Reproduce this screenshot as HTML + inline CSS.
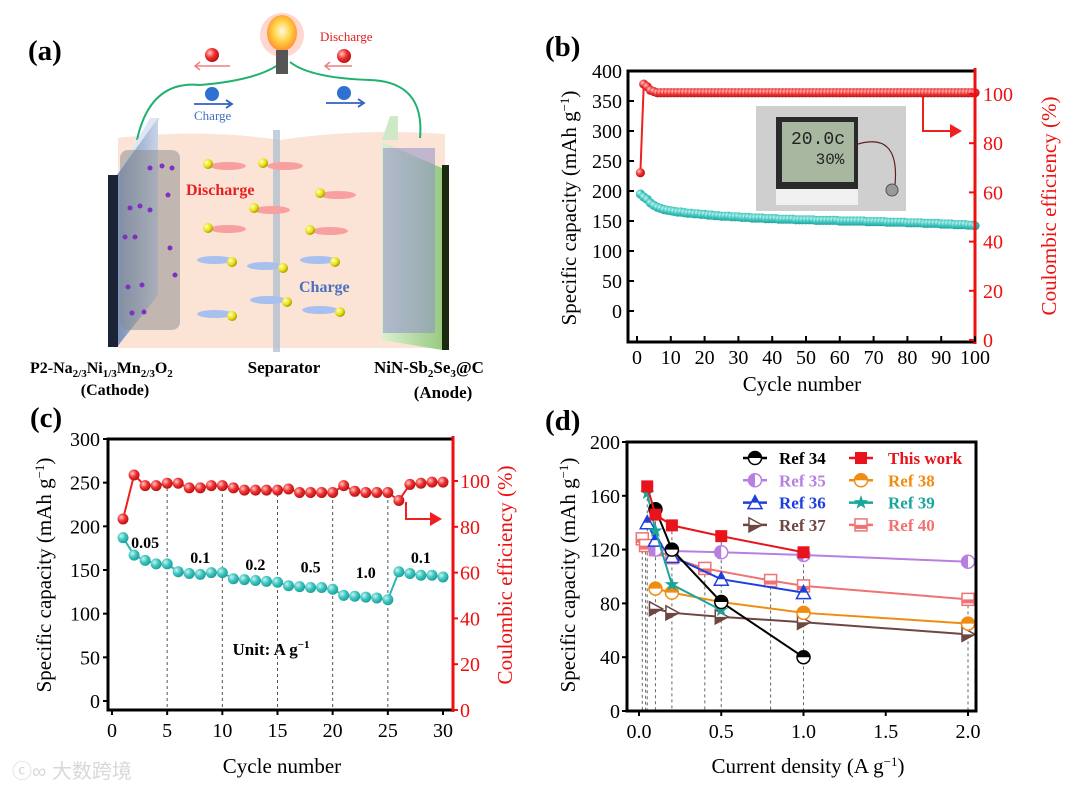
<!DOCTYPE html>
<html><head><meta charset="utf-8"><style>
html,body{margin:0;padding:0;background:#fff}
svg{display:block;font-family:"Liberation Serif","Noto Serif CJK SC",serif}
</style></head><body>
<svg id="fig" width="1080" height="789" viewBox="0 0 1080 789" xmlns="http://www.w3.org/2000/svg">
<defs>
<radialGradient id="gT" cx="0.35" cy="0.35" r="0.7"><stop offset="0" stop-color="#c8f4f0"/><stop offset="0.5" stop-color="#3fc6c0"/><stop offset="1" stop-color="#1a9a96"/></radialGradient>
<radialGradient id="gR" cx="0.35" cy="0.35" r="0.7"><stop offset="0" stop-color="#ffc8c8"/><stop offset="0.5" stop-color="#f03030"/><stop offset="1" stop-color="#b01010"/></radialGradient>
<radialGradient id="gY" cx="0.35" cy="0.35" r="0.7"><stop offset="0" stop-color="#ffffc0"/><stop offset="0.6" stop-color="#e8e010"/><stop offset="1" stop-color="#a09000"/></radialGradient>
<radialGradient id="gBulb" cx="0.5" cy="0.45" r="0.6"><stop offset="0" stop-color="#fffbe0"/><stop offset="0.5" stop-color="#ffd040"/><stop offset="1" stop-color="#ff8030"/></radialGradient>
<linearGradient id="gCat" x1="0" x2="1"><stop offset="0" stop-color="#7a90b8"/><stop offset="1" stop-color="#c8d4e8"/></linearGradient>
<linearGradient id="gAn" x1="0" x2="1"><stop offset="0" stop-color="#d8f0d0"/><stop offset="1" stop-color="#8cc878"/></linearGradient>
</defs>

<g>
<text x="28" y="60" font-size="29" font-weight="bold">(a)</text>
<path d="M118 138 Q200 128 280 140 Q360 128 445 134 L445 348 L118 348 Z" fill="#fbe4d6"/>
<path d="M137 140 Q150 80 200 85 Q260 80 282 62" fill="none" stroke="#20b070" stroke-width="2"/>
<path d="M420 138 Q425 82 370 80 Q310 78 290 62" fill="none" stroke="#20b070" stroke-width="2"/>
<circle cx="282" cy="35" r="22" fill="#ffb0a0" opacity="0.5"/>
<ellipse cx="282" cy="33" rx="15" ry="18" fill="url(#gBulb)"/>
<rect x="276" y="50" width="12" height="24" fill="#555"/>
<text x="320" y="41" font-size="13" fill="#e02020">Discharge</text>
<circle cx="212" cy="55" r="7" fill="url(#gR)"/>
<circle cx="344" cy="56" r="7" fill="url(#gR)"/>
<path d="M230 66 H196 M200 62 L195 66 L200 70" stroke="#f08080" stroke-width="1.5" fill="none"/>
<path d="M352 66 H326 M330 62 L325 66 L330 70" stroke="#f08080" stroke-width="1.5" fill="none"/>
<circle cx="212" cy="94" r="7" fill="#3070d0"/>
<circle cx="344" cy="93" r="7" fill="#3070d0"/>
<path d="M194 104 H230 M226 100 L232 104 L226 108" stroke="#3060c0" stroke-width="1.8" fill="none"/>
<path d="M326 103 H362 M358 99 L364 103 L358 107" stroke="#3060c0" stroke-width="1.8" fill="none"/>
<text x="194" y="120" font-size="13" fill="#4070c0">Charge</text>
<polygon points="117,175 150,118 160,118 127,175" fill="#dce6f4"/>
<polygon points="117,175 158,118 158,295 117,347" fill="url(#gCat)"/>
<rect x="108" y="175" width="10" height="172" fill="#1a2436"/>
<rect x="120" y="150" width="60" height="180" rx="8" fill="#8a8a8a" opacity="0.5"/>
<g fill="#8030c0">
<circle cx="150" cy="168" r="2.5"/><circle cx="162" cy="166" r="2.5"/><circle cx="172" cy="168" r="2.5"/><circle cx="168" cy="195" r="2.5"/><circle cx="130" cy="208" r="2.5"/><circle cx="140" cy="206" r="2.5"/><circle cx="150" cy="210" r="2.5"/><circle cx="125" cy="237" r="2.5"/><circle cx="135" cy="237" r="2.5"/><circle cx="170" cy="248" r="2.5"/><circle cx="175" cy="275" r="2.5"/><circle cx="128" cy="287" r="2.5"/><circle cx="142" cy="285" r="2.5"/><circle cx="132" cy="313" r="2.5"/><circle cx="144" cy="312" r="2.5"/>
</g>
<polygon points="382,140 390,116 398,116 398,140" fill="#cfe8c8"/>
<polygon points="382,142 442,168 442,350 382,340" fill="url(#gAn)" opacity="0.9"/>
<rect x="442" y="165" width="7" height="185" fill="#1a2a10"/>
<rect x="383" y="148" width="52" height="185" fill="#9090c8" opacity="0.55"/>
<rect x="273" y="130" width="7" height="222" fill="#a8bcd0" opacity="0.7"/>
<text x="186" y="195" font-size="16" font-weight="bold" fill="#e82020">Discharge</text>
<text x="299" y="292" font-size="16" font-weight="bold" fill="#4a70c0">Charge</text>
<g>
<ellipse cx="228" cy="166" rx="18" ry="4" fill="#f8a0a0"/><circle cx="208" cy="164" r="5" fill="url(#gY)"/>
<ellipse cx="285" cy="166" rx="18" ry="4" fill="#f8a0a0"/><circle cx="263" cy="163" r="5" fill="url(#gY)"/>
<ellipse cx="338" cy="195" rx="18" ry="4" fill="#f8a0a0"/><circle cx="320" cy="193" r="5" fill="url(#gY)"/>
<ellipse cx="272" cy="210" rx="18" ry="4" fill="#f8a0a0"/><circle cx="254" cy="208" r="5" fill="url(#gY)"/>
<ellipse cx="228" cy="229" rx="18" ry="4" fill="#f8a0a0"/><circle cx="208" cy="228" r="5" fill="url(#gY)"/>
<ellipse cx="330" cy="231" rx="18" ry="4" fill="#f8a0a0"/><circle cx="310" cy="230" r="5" fill="url(#gY)"/>
<ellipse cx="215" cy="260" rx="18" ry="4" fill="#a8c0f0"/><circle cx="232" cy="262" r="5" fill="url(#gY)"/>
<ellipse cx="265" cy="266" rx="18" ry="4" fill="#a8c0f0"/><circle cx="283" cy="268" r="5" fill="url(#gY)"/>
<ellipse cx="318" cy="260" rx="18" ry="4" fill="#a8c0f0"/><circle cx="335" cy="262" r="5" fill="url(#gY)"/>
<ellipse cx="268" cy="300" rx="18" ry="4" fill="#a8c0f0"/><circle cx="287" cy="302" r="5" fill="url(#gY)"/>
<ellipse cx="320" cy="310" rx="18" ry="4" fill="#a8c0f0"/><circle cx="340" cy="312" r="5" fill="url(#gY)"/>
<ellipse cx="215" cy="314" rx="18" ry="4" fill="#a8c0f0"/><circle cx="232" cy="316" r="5" fill="url(#gY)"/>
</g>
<text x="30" y="373" font-size="16" font-weight="bold">P2-Na<tspan font-size="11" dy="4">2/3</tspan><tspan dy="-4">Ni</tspan><tspan font-size="11" dy="4">1/3</tspan><tspan dy="-4">Mn</tspan><tspan font-size="11" dy="4">2/3</tspan><tspan dy="-4">O</tspan><tspan font-size="11" dy="4">2</tspan></text>
<text x="115" y="395" font-size="16" font-weight="bold" text-anchor="middle">(Cathode)</text>
<text x="284" y="373" font-size="17" font-weight="bold" text-anchor="middle">Separator</text>
<text x="374" y="373" font-size="17" font-weight="bold">NiN-Sb<tspan font-size="11" dy="4">2</tspan><tspan dy="-4">Se</tspan><tspan font-size="11" dy="4">3</tspan><tspan dy="-4">@C</tspan></text>
<text x="443" y="398" font-size="17" font-weight="bold" text-anchor="middle">(Anode)</text>
</g>

<text x="545" y="56" font-size="29" font-weight="bold">(b)</text>
<text x="30" y="427" font-size="29" font-weight="bold">(c)</text>
<text x="545" y="430" font-size="29" font-weight="bold">(d)</text>
<text x="12" y="778" font-size="20" fill="#d8d8d8" font-family="Liberation Sans, Noto Sans CJK SC, sans-serif">ⓒ∞ 大数跨境</text>

<g id="pb"></g>
<g id="pc"></g>
<g id="pd"></g>
</svg>
<script>
// ---- Panel b data ----
const bCapacity = [195,190,186,180,176,173,171,169,168,167,
166,165,165,164,163,163,162,162,161,161,
160,160,159,159,158,158,158,157,157,157,
156,156,156,155,155,155,155,154,154,154,
154,153,153,153,153,153,152,152,152,152,
152,152,151,151,151,151,151,151,151,150,
150,150,150,150,150,150,150,149,149,149,
149,149,149,148,148,148,148,148,148,147,
147,147,147,147,146,146,146,146,146,145,
145,145,145,144,144,144,144,143,143,142];
const bCE = [68,104,103,101.5,101,100.5,100.5,100.5,100.5,100.5,
100.5,100.5,100.5,100.5,100.5,100.5,100.5,100.5,100.5,100.5,
100.5,100.5,100.5,100.5,100.5,100.5,100.5,100.5,100.5,100.5,
100.5,100.5,100.5,100.5,100.5,100.5,100.5,100.5,100.5,100.5,
100.5,100.5,100.5,100.5,100.5,100.5,100.5,100.5,100.5,100.5,
100.5,100.5,100.5,100.5,100.5,100.5,100.5,100.5,100.5,100.5,
100.5,100.5,100.5,100.5,100.5,100.5,100.5,100.5,100.5,100.5,
100.5,100.5,100.5,100.5,100.5,100.5,100.5,100.5,100.5,100.5,
100.5,100.5,100.5,100.5,100.5,100.5,100.5,100.5,100.5,100.5,
100.5,100.5,100.5,100.5,100.5,100.5,100.5,100.5,100.5,100.5];
const bXTicks = [0,10,20,30,40,50,60,70,80,90,100];
const bYTicks = [0,50,100,150,200,250,300,350,400];
const bY2Ticks = [0,20,40,60,80,100];
// ---- Panel c data ----
const cCapacity = [187,167,161,157,157,148,146,145,147,147,140,139,138,137,136,132,131,130,130,128,121,120,119,118,116,148,146,144,144,142];
const cCE = [83.4,102.6,98,98,99,99,97,97,98,98,97,96,96,96,96,96.5,95,95,95,95,98,95.5,95,95,95,91.5,98.5,99,99.5,99.5];
const cXTicks = [0,5,10,15,20,25,30];
const cYTicks = [0,50,100,150,200,250,300];
const cY2Ticks = [0,20,40,60,80,100];
const cRateLabels = ["0.05","0.1","0.2","0.5","1.0","0.1"];
const cRateCycles = [3,8,13,18,23,28];
const cRateValues = [175,158,150,147,141,158];
// ---- Panel d data ----
const dRef34X = [0.1,0.2,0.5,1.0], dRef34Y = [150,120,81,40];
const dWorkX = [0.05,0.1,0.2,0.5,1.0], dWorkY = [167,146,138,130,118];
const dRef35X = [0.1,0.2,0.5,1.0,2.0], dRef35Y = [120,119,118,116,111];
const dRef38X = [0.1,0.2,0.5,1.0,2.0], dRef38Y = [91,88,81,73,65];
const dRef36X = [0.05,0.1,0.2,0.5,1.0], dRef36Y = [140,127,115,98,88];
const dRef39X = [0.05,0.1,0.2,0.5], dRef39Y = [162,134,94,75];
const dRef37X = [0.1,0.2,0.5,1.0,2.0], dRef37Y = [76,73,70,66,57];
const dRef40X = [0.02,0.04,0.1,0.2,0.4,0.8,1.0,2.0], dRef40Y = [128,123,120,114,106,97,93,83];
const dDropX = [0.02,0.04,0.05,0.1,0.2,0.4,0.5,0.8,1.0,2.0];
const dDropY = [128,123,167,150,138,106,130,97,118,83];
const dXTicks = [0.0,0.5,1.0,1.5,2.0];
const dYTicks = [0,40,80,120,160,200];

const NS = "http://www.w3.org/2000/svg";
function mk(tag, attrs, parent, txt){const e=document.createElementNS(NS,tag);for(const k in attrs)e.setAttribute(k,attrs[k]);if(txt!==undefined)e.textContent=txt;parent.appendChild(e);return e;}
function lin(d0,d1,r0,r1){return v=>r0+(v-d0)*(r1-r0)/(d1-d0);}

// ===== Panel b =====
(function(){
const g=document.getElementById('pb');
const L=628,R=975,T=71,B=342;
const x=lin(0,100,637,975), y=lin(0,400,311,71), y2=lin(0,100,340,94);
let el=mk('rect',{x:756,y:106,width:150,height:105,fill:'#cfcfcf'},g);


el=mk('rect',{x:776,y:117,width:82,height:72,fill:'#2a2a2a'},g);


el=mk('rect',{x:782,y:122,width:72,height:60,fill:'#a8b8a0'},g);


el=mk('text',{x:818,y:144,'font-size':18,'text-anchor':'middle','font-family':'Liberation Mono, monospace',fill:'#222'},g,'20.0c');


el=mk('text',{x:830,y:164,'font-size':16,'text-anchor':'middle','font-family':'Liberation Mono, monospace',fill:'#222'},g,'30%');


el=mk('rect',{x:776,y:189,width:82,height:16,fill:'#f0f0f0'},g);


el=mk('path',{d:'M855 145 Q900 130 895 185',fill:'none',stroke:'#602020','stroke-width':1.2},g);


el=mk('circle',{cx:892,cy:190,r:6,fill:'#999',stroke:'#555'},g);


el=mk('polyline',{points:bCapacity.map((v,i)=>x(i+1)+','+y(v)).join(' '),fill:'none',stroke:'#2ab8b4','stroke-width':2},g);


el=mk('polyline',{points:bCE.map((v,i)=>x(i+1)+','+y2(v)).join(' '),fill:'none',stroke:'#ee2020','stroke-width':2},g);


bCapacity.forEach((v,i)=>{const c=mk('circle',{cx:x(i+1),cy:y(v),r:4.6,fill:'url(#gT)'},g);

});
bCE.forEach((v,i)=>{const c=mk('circle',{cx:x(i+1),cy:y2(v),r:4.6,fill:'url(#gR)'},g);

});
el=mk('path',{d:'M923 97 V131 H952',fill:'none',stroke:'#ee2020','stroke-width':2},g);


el=mk('polygon',{points:'950,124 962,131 950,138',fill:'#ee2020'},g);


el=mk('path',{d:`M${R} ${T} H${L} V${B} H${R}`,fill:'none',stroke:'#000','stroke-width':3},g);


el=mk('line',{x1:R,y1:T-3,x2:R,y2:B+2,stroke:'#ee1010','stroke-width':3},g);


bYTicks.forEach(v=>{mk('line',{x1:L,y1:y(v),x2:L+6,y2:y(v),stroke:'#000','stroke-width':2},g);
const t=mk('text',{x:L-6,y:y(v)+7,'font-size':20,'text-anchor':'end'},g,String(v));

});
bY2Ticks.forEach(v=>{mk('line',{x1:R,y1:y2(v),x2:R-6,y2:y2(v),stroke:'#ee1010','stroke-width':2},g);
const t=mk('text',{x:R+8,y:y2(v)+7,'font-size':20,fill:'#ee1010'},g,String(v));

});
bXTicks.forEach(v=>{mk('line',{x1:x(v),y1:B,x2:x(v),y2:B-6,stroke:'#000','stroke-width':2},g);
const t=mk('text',{x:x(v),y:B+22,'font-size':20,'text-anchor':'middle'},g,String(v));

});
el=mk('text',{x:802,y:391,'font-size':21,'text-anchor':'middle'},g,'Cycle number');


el=mk('text',{transform:'translate(576,208) rotate(-90)','font-size':21,'text-anchor':'middle'},g);
el.innerHTML='Specific capacity (mAh g<tspan dy="-7" font-size="13">−1</tspan><tspan dy="7">)</tspan>';


el=mk('text',{transform:'translate(1056,206) rotate(-90)','font-size':21,'text-anchor':'middle',fill:'#ee1010'},g,'Coulombic efficiency (%)');


})();

// ===== Panel c =====
(function(){
const g=document.getElementById('pc');
const L=108,R=453,T=439,B=710;
const x=lin(0,30,112,443), y=lin(0,300,701,439), y2=lin(0,100,710,481);
[5,10,15,20,25].forEach(v=>{const l=mk('line',{x1:x(v),y1:488,x2:x(v),y2:B,stroke:'#555','stroke-width':1,'stroke-dasharray':'3,3'},g);

});
let el=mk('polyline',{points:cCapacity.map((v,i)=>x(i+1)+','+y(v)).join(' '),fill:'none',stroke:'#2ab8b4','stroke-width':2},g);


el=mk('polyline',{points:cCE.map((v,i)=>x(i+1)+','+y2(v)).join(' '),fill:'none',stroke:'#ee2020','stroke-width':2},g);


cCapacity.forEach((v,i)=>{const c=mk('circle',{cx:x(i+1),cy:y(v),r:5.5,fill:'url(#gT)'},g);

});
cCE.forEach((v,i)=>{const c=mk('circle',{cx:x(i+1),cy:y2(v),r:5.5,fill:'url(#gR)'},g);

});
cRateLabels.forEach((s,i)=>{const t=mk('text',{x:x(cRateCycles[i]),y:y(cRateValues[i]),'font-size':16,'font-weight':'bold','text-anchor':'middle'},g,s);

});
el=mk('text',{x:271,y:655,'font-size':17,'font-weight':'bold','text-anchor':'middle'},g);
el.innerHTML='Unit: A g<tspan dy="-7" font-size="11">−1</tspan>';


el=mk('path',{d:'M406 502 V519 H432',fill:'none',stroke:'#ee2020','stroke-width':2},g);


el=mk('polygon',{points:'430,512 442,519 430,526',fill:'#ee2020'},g);


el=mk('path',{d:`M${R} ${T} H${L} V${B} H${R}`,fill:'none',stroke:'#000','stroke-width':3},g);


el=mk('line',{x1:R,y1:T-3,x2:R,y2:B+2,stroke:'#ee1010','stroke-width':3},g);


cYTicks.forEach(v=>{mk('line',{x1:L,y1:y(v),x2:L-5,y2:y(v),stroke:'#000','stroke-width':2},g);
const t=mk('text',{x:L-8,y:y(v)+7,'font-size':20,'text-anchor':'end'},g,String(v));

});
cY2Ticks.forEach(v=>{mk('line',{x1:R,y1:y2(v),x2:R+5,y2:y2(v),stroke:'#ee1010','stroke-width':2},g);
const t=mk('text',{x:R+7,y:y2(v)+7,'font-size':20,fill:'#ee1010'},g,String(v));

});
cXTicks.forEach(v=>{mk('line',{x1:x(v),y1:B,x2:x(v),y2:B+5,stroke:'#000','stroke-width':2},g);
const t=mk('text',{x:x(v),y:B+27,'font-size':20,'text-anchor':'middle'},g,String(v));

});
el=mk('text',{x:282,y:773,'font-size':21,'text-anchor':'middle'},g,'Cycle number');


el=mk('text',{transform:'translate(51,575) rotate(-90)','font-size':21,'text-anchor':'middle'},g);
el.innerHTML='Specific capacity (mAh g<tspan dy="-7" font-size="13">−1</tspan><tspan dy="7">)</tspan>';


el=mk('text',{transform:'translate(512,575) rotate(-90)','font-size':21,'text-anchor':'middle',fill:'#ee1010'},g,'Coulombic efficiency (%)');


})();

// ===== Panel d =====
(function(){
const g=document.getElementById('pd');
const L=627,R=976,T=442,B=711;
const x=lin(0,2,639,968), y=lin(0,200,711,442);
dDropX.forEach((v,i)=>{const l=mk('line',{x1:x(v),y1:y(dDropY[i]),x2:x(v),y2:B,stroke:'#666','stroke-width':1,'stroke-dasharray':'3,3'},g);

});
const series=[
 {xs:dRef40X,ys:dRef40Y,c:'#f07272',m:'hsq',n:'ref-40'},
 {xs:dRef37X,ys:dRef37Y,c:'#6e4642',m:'tri-r',n:'ref-37'},
 {xs:dRef38X,ys:dRef38Y,c:'#f08c10',m:'hc',n:'ref-38'},
 {xs:dRef35X,ys:dRef35Y,c:'#b67fe0',m:'hcv',n:'ref-35'},
 {xs:dRef36X,ys:dRef36Y,c:'#1e3ee0',m:'tri',n:'ref-36'},
 {xs:dRef39X,ys:dRef39Y,c:'#1aa59a',m:'star',n:'ref-39'},
 {xs:dRef34X,ys:dRef34Y,c:'#000',m:'hc',n:'ref-34'},
 {xs:dWorkX,ys:dWorkY,c:'#e8131b',m:'sq',n:'this-work'}];
function marker(m,cx,cy,c,parent){
 let e;
 if(m==='sq'){e=mk('rect',{x:cx-6,y:cy-6,width:12,height:12,fill:c},parent);}
 else if(m==='hsq'){e=mk('g',{},parent);mk('rect',{x:cx-6,y:cy-6,width:12,height:12,fill:'#fff',stroke:c,'stroke-width':1.5},e);mk('rect',{x:cx-6,y:cy,width:12,height:4,fill:c},e);}
 else if(m==='hc'){e=mk('g',{},parent);mk('circle',{cx,cy,r:6.5,fill:'#fff',stroke:c,'stroke-width':1.5},e);mk('path',{d:`M${cx-6.5} ${cy} A6.5 6.5 0 0 1 ${cx+6.5} ${cy} Z`,fill:c},e);}
 else if(m==='hcv'){e=mk('g',{},parent);mk('circle',{cx,cy,r:6.5,fill:'#fff',stroke:c,'stroke-width':1.5},e);mk('path',{d:`M${cx} ${cy-6.5} A6.5 6.5 0 0 0 ${cx} ${cy+6.5} Z`,fill:c},e);}
 else if(m==='tri'){e=mk('g',{},parent);mk('polygon',{points:`${cx},${cy-7} ${cx+7},${cy+6} ${cx-7},${cy+6}`,fill:'#fff',stroke:c,'stroke-width':1.5},e);mk('polygon',{points:`${cx},${cy-7} ${cx+3.5},${cy} ${cx-3.5},${cy}`,fill:c},e);}
 else if(m==='tri-r'){e=mk('g',{},parent);mk('polygon',{points:`${cx-6},${cy-7} ${cx+7},${cy} ${cx-6},${cy+7}`,fill:'#fff',stroke:c,'stroke-width':1.5},e);mk('polygon',{points:`${cx-6},${cy} ${cx+7},${cy} ${cx-6},${cy+7}`,fill:c},e);}
 else {let p=[];for(let k=0;k<10;k++){const a=-Math.PI/2+k*Math.PI/5,r=k%2?3:7.5;p.push((cx+r*Math.cos(a))+','+(cy+r*Math.sin(a)));}e=mk('polygon',{points:p.join(' '),fill:c},parent);}
 return e;
}
series.forEach(s=>{
 const l=mk('polyline',{points:s.xs.map((v,i)=>x(v)+','+y(s.ys[i])).join(' '),fill:'none',stroke:s.c,'stroke-width':2},g);
 
 
 s.xs.forEach((v,i)=>{const mm=marker(s.m,x(v),y(s.ys[i]),s.c,g);
 
 });
});
const legOrder=[[6,0],[7,1],[3,0],[2,1],[4,0],[5,1],[1,0],[0,1]];
const legText=["Ref 34","This work","Ref 35","Ref 38","Ref 36","Ref 39","Ref 37","Ref 40"];
legOrder.forEach((p,k)=>{const s=series[p[0]];const col=p[1];const row=Math.floor(k/2);
 const lx=col?849:743, ly=458+row*22.3;
 const lg=mk('g',{},g);
 
 
 mk('line',{x1:lx,y1:ly,x2:lx+24,y2:ly,stroke:s.c,'stroke-width':2.5},lg);
 marker(s.m,lx+12,ly,s.c,lg);
 mk('text',{x:lx+(col?39:36),y:ly+6,'font-size':17,'font-weight':'bold',fill:s.c},lg,legText[k]);
});
let el=mk('rect',{x:L,y:T,width:R-L,height:B-T,fill:'none',stroke:'#000','stroke-width':3},g);


dYTicks.forEach(v=>{mk('line',{x1:L,y1:y(v),x2:L-5,y2:y(v),stroke:'#000','stroke-width':2},g);
const t=mk('text',{x:L-7,y:y(v)+7,'font-size':20,'text-anchor':'end'},g,String(v));

});
dXTicks.forEach(v=>{mk('line',{x1:x(v),y1:B,x2:x(v),y2:B+5,stroke:'#000','stroke-width':2},g);
const t=mk('text',{x:x(v),y:B+27,'font-size':20,'text-anchor':'middle'},g,v.toFixed(1));

});
el=mk('text',{x:808,y:773,'font-size':21,'text-anchor':'middle'},g);
el.innerHTML='Current density (A g<tspan dy="-7" font-size="13">−1</tspan><tspan dy="7">)</tspan>';


el=mk('text',{transform:'translate(575,575) rotate(-90)','font-size':21,'text-anchor':'middle'},g);
el.innerHTML='Specific capacity (mAh g<tspan dy="-7" font-size="13">−1</tspan><tspan dy="7">)</tspan>';


})();
</script>
</body></html>
